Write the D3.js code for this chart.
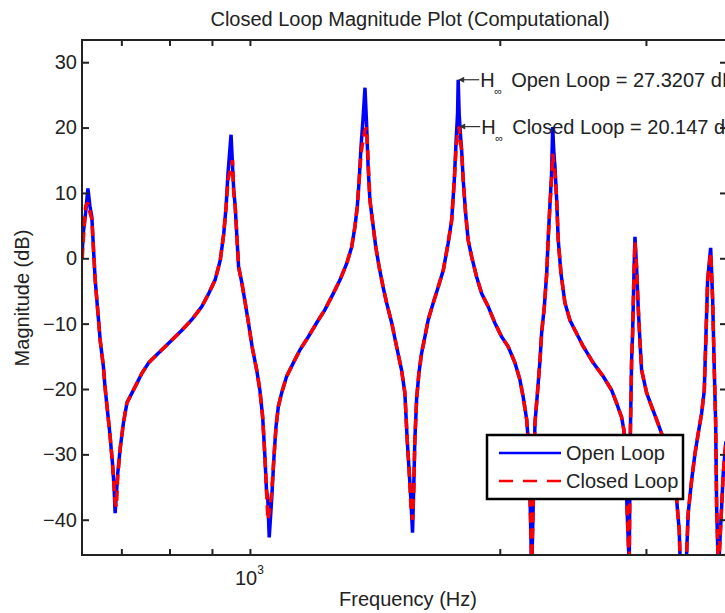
<!DOCTYPE html>
<html><head><meta charset="utf-8">
<script src="https://cdn.jsdelivr.net/npm/d3@7"></script>
<style>
body{margin:0;background:#fff;}
svg{display:block;}
text{font-family:"Liberation Sans",Arial,Helvetica,sans-serif;fill:#222;}
</style>
</head><body>
<svg id="c" width="725" height="613"></svg>
<script>
const freq=[628,630,634,638,641.5,645,648,651,654,657,
660,666,669,674,678,683,686,688,690.5,693,
698,704,711,721,731,741,755,776,798,828,
851,875,892,908,921,930,936,941,945,949,
953,956,960,965,969,978,987,996,1006,1019,
1028,1036,1042.5,1047,1051,1055,1062,1069,1075,1082,
1092,1107,1128,1149,1176,1203,1231,1260,1284,1308,
1326,1338,1347,1354,1361,1368,1376,1382,1388,1395,
1408,1418,1431,1447,1461,1482,1502,1523,1537,1547,
1556,1563,1570,1576,1580,1588,1598,1610,1625,1640,
1663,1686,1710,1733,1750,1763,1772,1779,1782,1787,
1793,1799,1807,1819,1832,1850,1876,1902,1937,1973,
2010,2047,2086,2115,2134,2155,2164,2175,2185,2195,
2205,2221.5,2236,2246,2263,2278,2288,2298,2309,2316,
2324,2331,2342,2352,2370,2396,2430,2464,2521,2592,
2665,2728,2766,2804,2822,2838,2848,2864,2872,2883,
2891,2902,2910,2923,2936,2950,2964,3006,3048,3090,
3133,3177,3236,3267,3290,3324,3373,3405,3437,3468,
3501,3527,3543,3560,3590,3610,3623,3640,3650,3668,
3701,3717,3745];
const openLoop=[1,4,7,10.7,8,6.3,1.3,-3.3,-6.4,-9.4,
-12.5,-16.6,-19.7,-23.7,-26.8,-31.4,-35,-39,-36,-32.9,
-28.9,-25.2,-22.1,-20.6,-19.1,-17.6,-16,-14.5,-13,-11,
-9.4,-7.4,-5.4,-3.3,-0.3,3.8,7.9,13,16,18.9,
14,10.5,7.9,2.8,-1.3,-3.8,-6.8,-9.9,-13.5,-17.1,
-20.2,-24.3,-30.4,-35.5,-37,-42.7,-37,-30.4,-25.8,-22.7,
-20.6,-18.1,-16,-14,-12,-9.9,-7.9,-5.4,-3.3,-0.8,
1.7,4.8,7.9,12,17.1,21,26.1,20.7,14,8.9,
4.8,1.7,-1.3,-4.4,-6.8,-9.9,-13.5,-17.1,-20.6,-27.8,
-32.9,-37,-42,-34,-28,-21.5,-17.6,-14.5,-12,-9.4,
-6.8,-4.4,-1.8,2.3,5.8,12,18.1,22.2,27.3207,22,
19,16.6,12,6.9,2.8,0.2,-2.9,-5.4,-7.4,-9.9,
-12,-13.5,-16,-18.6,-21.2,-24.7,-27.8,-36.5,-48,-37,
-25.2,-20.2,-15.6,-11.5,-7.4,-2.3,3.3,7.9,13,20.1,
16,14,8.9,2.8,-2.3,-6.8,-9.5,-11,-13.5,-16,
-18.1,-20.2,-22.2,-24.3,-26.3,-32.9,-39,-47,-28,-15.6,
-11.5,-2.3,3.3,-1.3,-7.4,-12.5,-17.1,-20.6,-22.7,-24.7,
-26.8,-29.9,-34,-37,-41.6,-60,-39,-34,-29.9,-26.8,
-23.7,-20.2,-12,-3.3,1.6,-6.4,-15.1,-25.2,-38,-48,
-38,-33,-28];
const closedLoop=[0,3,8,8.5,7,6,1.3,-3.3,-6.4,-9.4,
-12.5,-16.6,-19.7,-23.7,-26.8,-31.4,-35,-37.5,-38,-33.5,
-28.9,-25.2,-22.1,-20.6,-19.1,-17.6,-16,-14.5,-13,-11,
-9.4,-7.4,-5.4,-3.3,-0.3,3.8,7.9,12,13,14,
15,10,7.9,2.8,-1.3,-3.8,-6.8,-9.9,-13.5,-17.1,
-20.2,-24.3,-30.4,-35.5,-40,-39,-36,-30.4,-25.8,-22.7,
-20.6,-18.1,-16,-14,-12,-9.9,-7.9,-5.4,-3.3,-0.8,
1.7,4.8,7.9,12,16,18,19.6,20,15,8.9,
4.8,1.7,-1.3,-4.4,-6.8,-9.9,-13.5,-17.1,-20.6,-27.8,
-32.9,-38,-40,-35,-28,-21.5,-17.6,-14.5,-12,-9.4,
-6.8,-4.4,-1.8,2.3,5.8,12,17,19,19.5,20.147,
18,16.6,12,6.9,2.8,0.2,-2.9,-5.4,-7.4,-9.9,
-12,-13.5,-16,-18.6,-21.2,-24.7,-27.8,-36.5,-47,-37,
-25.2,-20.2,-15.6,-11.5,-7.4,-2.3,3.3,7.9,12,16,
14,13,8.9,2.8,-2.3,-6.8,-9.5,-11,-13.5,-16,
-18.1,-20.2,-22.2,-24.3,-26.3,-32.9,-39,-47,-28,-15.6,
-11.5,-2.3,2.5,-1.3,-7.4,-12.5,-17.1,-20.6,-22.7,-24.7,
-26.8,-29.9,-34,-37,-41.6,-60,-39,-34,-29.9,-26.8,
-23.7,-20.2,-12,-3.3,0.8,-6.4,-15.1,-25.2,-38,-48,
-38,-33,-28];
const yTicks=[-40,-30,-20,-10,0,10,20,30];
const xTicks=[700,800,900,1000,2000,3000];
const xDecadeTicks=[1000];
const seriesNames=["Open Loop","Closed Loop"];
const titleText="Closed Loop Magnitude Plot (Computational)";
const xLabelText="Frequency (Hz)";
const yLabelText="Magnitude (dB)";
const hinfOpen={f:1782,v:27.3207,label:"Open Loop = 27.3207 dB"};
const hinfClosed={f:1787,v:20.147,label:"Closed Loop = 20.147 dB"};

const L=82,T=40,R=726,B=555;
const svg=d3.select("#c");
const x=d3.scaleLog().domain([627.6,3746]).range([L,R]);
const y=d3.scaleLinear().domain([-45.4,33.4]).range([B,T]);

svg.append("defs").append("clipPath").attr("id","clip")
  .append("rect").attr("x",L).attr("y",T).attr("width",R-L).attr("height",B-T);

const line=d3.line().x(d=>x(d[0])).y(d=>y(d[1]));
const openData=freq.map((f,i)=>[f,openLoop[i]]);
const closedData=freq.map((f,i)=>[f,closedLoop[i]]);
const g=svg.append("g").attr("clip-path","url(#clip)");
g.append("path").attr("d",line(openData)).attr("fill","none")
  .attr("stroke","#0000ff").attr("stroke-width",3.5).attr("stroke-miterlimit",2);
g.append("path").attr("d",line(closedData)).attr("fill","none")
  .attr("stroke","#ff0000").attr("stroke-width",3.5).attr("stroke-dasharray","10,6").attr("stroke-miterlimit",2);

// axes (inward ticks)
const axL=svg.append("g").attr("transform",`translate(${L},0)`)
  .call(d3.axisLeft(y).tickValues(yTicks).tickSizeInner(-7).tickSizeOuter(0).tickPadding(5)
  .tickFormat(d=>d<0?"\u2212"+Math.abs(d):d));
const axR=svg.append("g").attr("transform",`translate(${R},0)`)
  .call(d3.axisRight(y).tickValues(yTicks).tickSizeInner(-6).tickSizeOuter(0).tickFormat(""));
const axB=svg.append("g").attr("transform",`translate(0,${B})`)
  .call(d3.axisBottom(x).tickValues(xTicks).tickSizeInner(-6).tickSizeOuter(0).tickFormat(""));
const axT=svg.append("g").attr("transform",`translate(0,${T})`)
  .call(d3.axisTop(x).tickValues(xTicks).tickSizeInner(-6).tickSizeOuter(0).tickFormat(""));
[axL,axR,axB,axT].forEach(a=>{
  a.select(".domain").remove();
  a.selectAll(".tick line").attr("stroke","#222").attr("stroke-width",2);
  a.selectAll(".tick text").attr("font-size",20).attr("fill","#222")
   .attr("font-family","'Liberation Sans',Arial,sans-serif");
});
svg.append("rect").attr("x",L).attr("y",T).attr("width",R-L).attr("height",B-T)
  .attr("fill","none").attr("stroke","#222").attr("stroke-width",2);

// decade labels
xDecadeTicks.forEach(v=>{
  const t=svg.append("text").attr("x",x(v)-15).attr("y",585).attr("font-size",20);
  t.append("tspan").text("10");
  t.append("tspan").attr("font-size",12).attr("dy",-11).text(String(Math.round(Math.log10(v))));
});

// titles
svg.append("text").attr("x",410).attr("y",26).attr("text-anchor","middle").attr("font-size",20).text(titleText);
svg.append("text").attr("x",408).attr("y",606).attr("text-anchor","middle").attr("font-size",20).text(xLabelText);
svg.append("text").attr("transform","translate(29,298) rotate(-90)").attr("text-anchor","middle").attr("font-size",20).text(yLabelText);

// H-infinity annotations
[hinfOpen,hinfClosed].forEach(h=>{
  const px=x(h.f), py=y(h.v);
  svg.append("line").attr("x1",px+1).attr("y1",py).attr("x2",px+21).attr("y2",py)
    .attr("stroke","#333").attr("stroke-width",1.2);
  svg.append("path").attr("d",`M${px},${py} l6,-3 l0,6 z`).attr("fill","#333");
  const t=svg.append("text").attr("y",py+7).attr("font-size",20);
  t.append("tspan").attr("x",px+22).text("H");
  t.append("tspan").attr("x",px+36).attr("dy",8).attr("font-size",11).text("\u221e");
  t.append("tspan").attr("x",px+53).attr("dy",-8).text(h.label);
});

// legend
const lg=svg.append("g");
lg.append("rect").attr("x",487).attr("y",435).attr("width",196).attr("height",64)
  .attr("fill","#fff").attr("stroke","#000").attr("stroke-width",2.5);
lg.append("line").attr("x1",499).attr("x2",561).attr("y1",453).attr("y2",453)
  .attr("stroke","#0000ff").attr("stroke-width",2.5);
lg.append("line").attr("x1",499).attr("x2",561).attr("y1",481).attr("y2",481)
  .attr("stroke","#ff0000").attr("stroke-width",2.5).attr("stroke-dasharray","14,10");
lg.append("text").attr("x",566).attr("y",460).attr("font-size",20).text(seriesNames[0]);
lg.append("text").attr("x",566).attr("y",488).attr("font-size",20).text(seriesNames[1]);
</script>
</body></html>
